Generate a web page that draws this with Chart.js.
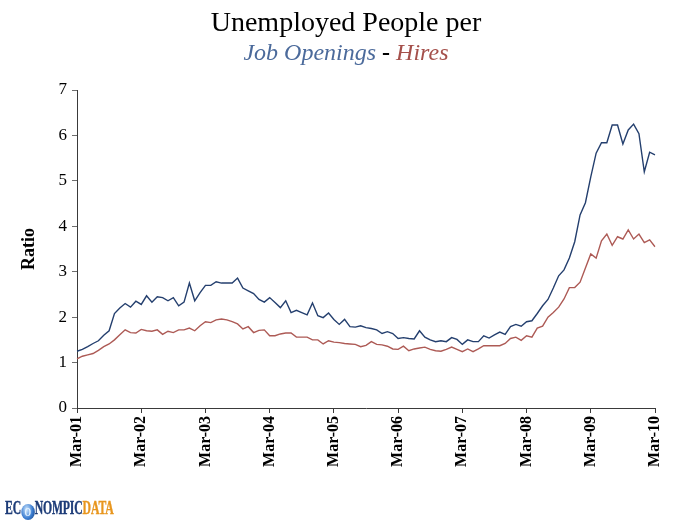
<!DOCTYPE html>
<html>
<head>
<meta charset="utf-8">
<title>Unemployed People per Job Openings - Hires</title>
<script src="https://cdn.jsdelivr.net/npm/chart.js@4.4.1/dist/chart.umd.min.js"></script>
<style>
  html, body { margin: 0; padding: 0; background: #fff; }
  #wrap { position: relative; width: 692px; height: 522px; overflow: hidden; }
  #chart { position: absolute; left: 0; top: 0; }
  .title { position: absolute; left: 0; width: 692px; text-align: center; font-family: "Liberation Serif", "Times New Roman", serif; line-height: 1; color: #000; }
  #t1 { top: 8px; font-size: 28px; }
  #t2 { top: 40px; font-size: 24px; font-style: italic; }
  #t2 .open { color: #4b6a9b; }
  #t2 .dash { font-style: normal; font-weight: bold; }
  #t2 .hire { color: #a5504b; }
  #logo { position: absolute; left: 5px; top: 499px; font-family: "Liberation Serif", serif; font-weight: bold; font-size: 18px; line-height: 18px; color: #1d3c78; transform: scaleX(0.65); transform-origin: left center; white-space: nowrap; letter-spacing: -0.2px; -webkit-text-stroke: 0.4px currentColor; }
  #logo .globe { display: inline-block; width: 21px; height: 16px; border-radius: 50%; background: radial-gradient(circle at 40% 35%, #cfe8ff, #3a7cd0 55%, #173f7a); color: #e2f1ff; font-size: 13px; line-height: 16px; text-align: center; vertical-align: -2px; -webkit-text-stroke: 0; }
  #logo .data { color: #e8961e; }
</style>
</head>
<body>
<div id="wrap">
  <canvas id="chart" width="692" height="522"></canvas>
  <div class="title" id="t1">Unemployed People per</div>
  <div class="title" id="t2"><span class="open">Job Openings</span> <span class="dash">-</span> <span class="hire">Hires</span></div>
  <div id="logo">EC<span class="globe">O</span>NOMPIC<span class="data">DATA</span></div>
</div>
<script>
// monthly, Mar-01 .. Mar-10
const monthNames = ["Jan", "Feb", "Mar", "Apr", "May", "Jun", "Jul", "Aug", "Sep", "Oct", "Nov", "Dec"];
const firstYear = 2001;
const firstMonth = 2; // March
const monthCount = 109;

// unemployed people per job opening
const perOpening = [
  1.25, 1.29, 1.35, 1.42, 1.48, 1.60, 1.70, 2.08, 2.20, 2.30,
  2.22, 2.35, 2.28, 2.47, 2.33, 2.45, 2.43, 2.36, 2.43, 2.25,
  2.33, 2.75, 2.36, 2.54, 2.70, 2.70, 2.78, 2.75, 2.75, 2.75,
  2.86, 2.64, 2.58, 2.52, 2.39, 2.33, 2.43, 2.32, 2.21, 2.36,
  2.10, 2.15, 2.10, 2.05, 2.31, 2.03, 1.99, 2.09, 1.95, 1.84,
  1.95, 1.79, 1.78, 1.81, 1.77, 1.75, 1.72, 1.64, 1.68, 1.64,
  1.53, 1.55, 1.53, 1.52, 1.70, 1.56, 1.50, 1.46, 1.48, 1.46,
  1.55, 1.51, 1.40, 1.50, 1.46, 1.46, 1.59, 1.54, 1.61, 1.67,
  1.62, 1.79, 1.84, 1.80, 1.90, 1.92, 2.08, 2.25, 2.39, 2.64,
  2.91, 3.04, 3.30, 3.66, 4.25, 4.52, 5.09, 5.61, 5.84, 5.84,
  6.23, 6.23, 5.81, 6.12, 6.25, 6.04, 5.20, 5.63, 5.57
];

// unemployed people per hire
const perHire = [
  1.08, 1.14, 1.17, 1.20, 1.27, 1.35, 1.41, 1.50, 1.61, 1.72,
  1.66, 1.65, 1.73, 1.70, 1.69, 1.72, 1.62, 1.69, 1.66, 1.72,
  1.72, 1.76, 1.70, 1.81, 1.90, 1.88, 1.94, 1.96, 1.94, 1.90,
  1.85, 1.74, 1.79, 1.66, 1.71, 1.72, 1.59, 1.59, 1.63, 1.65,
  1.65, 1.56, 1.56, 1.56, 1.50, 1.50, 1.41, 1.48, 1.45, 1.44,
  1.42, 1.41, 1.40, 1.35, 1.38, 1.46, 1.40, 1.39, 1.36, 1.30,
  1.29, 1.36, 1.26, 1.30, 1.32, 1.34, 1.29, 1.26, 1.25, 1.29,
  1.34, 1.29, 1.24, 1.30, 1.24, 1.30, 1.37, 1.37, 1.37, 1.37,
  1.42, 1.53, 1.56, 1.49, 1.59, 1.56, 1.76, 1.80, 2.00, 2.10,
  2.22, 2.40, 2.65, 2.65, 2.77, 3.08, 3.39, 3.30, 3.68, 3.83,
  3.58, 3.77, 3.72, 3.92, 3.72, 3.83, 3.64, 3.70, 3.55
];

const months = [];
for (let i = 0; i < monthCount; i++) {
  const m = firstMonth + i;
  const yy = String(firstYear + Math.floor(m / 12)).slice(2);
  months.push(monthNames[m % 12] + "-" + yy);
}

const serif = "'Liberation Serif', 'Times New Roman', serif";
const axisColor = "#3a3a3a";
const tickColor = "#6e6e6e";

const ctx = document.getElementById("chart");
new Chart(ctx, {
  type: "line",
  data: {
    labels: months,
    datasets: [
      {
        label: "Job Openings",
        data: perOpening,
        borderColor: "#243f6e",
        borderWidth: 1.4,
        pointRadius: 0,
        tension: 0,
        fill: false,
      },
      {
        label: "Hires",
        data: perHire,
        borderColor: "#ad5a55",
        borderWidth: 1.4,
        pointRadius: 0,
        tension: 0,
        fill: false,
      },
    ],
  },
  options: {
    responsive: false,
    animation: false,
    layout: { padding: { top: 90, right: 37, bottom: 0, left: 0 } },
    plugins: {
      legend: { display: false },
      tooltip: { enabled: false },
    },
    scales: {
      x: {
        offset: false,
        grid: { drawOnChartArea: false, drawTicks: true, tickLength: 5, color: axisColor },
        border: { color: axisColor },
        ticks: {
          autoSkip: false,
          maxRotation: 90,
          minRotation: 90,
          padding: 3,
          color: "#000",
          font: { family: serif, size: 16, weight: "bold" },
          callback: function (value, index) {
            return index % 12 === 0 ? this.getLabelForValue(value) : null;
          },
        },
        afterFit: (scale) => { scale.height = 114; },
      },
      y: {
        min: 0,
        max: 7,
        ticks: { stepSize: 1, padding: 5, color: "#000", font: { family: serif, size: 17 } },
        grid: { drawOnChartArea: false, drawTicks: true, tickLength: 5, color: tickColor },
        border: { color: axisColor },
        title: {
          display: true,
          text: "Ratio",
          color: "#000",
          font: { family: serif, size: 18, weight: "bold" },
          padding: { top: 19, bottom: 0 },
        },
        afterFit: (scale) => { scale.width = 77; },
      },
    },
  },
});
</script>
</body>
</html>
